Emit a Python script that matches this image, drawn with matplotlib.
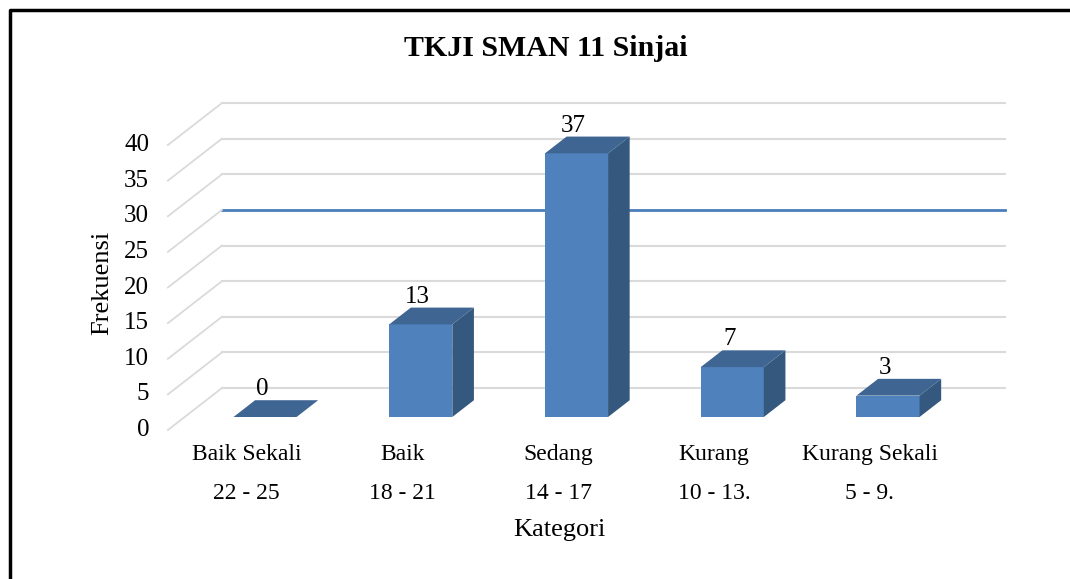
import matplotlib.pyplot as plt
from matplotlib.patches import Polygon
from matplotlib.lines import Line2D

# Data from chart
categories = ['Baik Sekali', 'Baik', 'Sedang', 'Kurang', 'Kurang Sekali']
ranges = ['22 - 25', '18 - 21', '14 - 17', '10 - 13.', '5 - 9.']
frekuensi = [0, 13, 37, 7, 3]
y_ticks = [0, 5, 10, 15, 20, 25, 30, 35, 40]

plt.rcParams['font.family'] = ['Liberation Serif', 'DejaVu Serif']

fig = plt.figure(figsize=(10.70, 5.79), dpi=100)
ax = fig.add_axes([0, 0, 1, 1])
ax.set_xlim(-1.594, 5.276)
ax.set_ylim(-20.91, 60.35)
ax.axis('off')

# oblique depth vector (data units) for the 3D look
DX, DY = 0.347, 5.89
grid_col = '#dadada'
front_col, top_col, side_col = '#4f81bd', '#3f6592', '#35587f'
x_left, x_right = -0.516, 4.51

# back wall gridlines + side wall diagonals
for v in y_ticks:
    col = '#4a7ebb' if v == 25 else grid_col
    lw = 2.0 if v == 25 else 1.5
    ax.plot([x_left + DX, x_right + DX], [v + DY, v + DY], color=col, lw=lw, zorder=1)
    ax.plot([x_left, x_left + DX], [v, v + DY], color=grid_col, lw=1.3, zorder=1)
    ax.text(x_left - 0.12, v, str(v), ha='right', va='center', fontsize=18)

# bars
w = 0.405
d0, d1 = 0.31, 0.71
for i, (cat, v) in enumerate(zip(categories, frekuensi)):
    bx0 = i - w / 2 + d0 * DX
    bx1 = bx0 + w
    b = d0 * DY
    ddx, ddy = (d1 - d0) * DX, (d1 - d0) * DY
    if v > 0:
        ax.add_patch(Polygon([(bx0, b), (bx1, b), (bx1, b + v), (bx0, b + v)],
                             closed=True, fc=front_col, ec='none', zorder=3))
        ax.add_patch(Polygon([(bx1, b), (bx1 + ddx, b + ddy), (bx1 + ddx, b + v + ddy), (bx1, b + v)],
                             closed=True, fc=side_col, ec='none', zorder=3))
    ax.add_patch(Polygon([(bx0, b + v), (bx1, b + v), (bx1 + ddx, b + v + ddy), (bx0 + ddx, b + v + ddy)],
                         closed=True, fc=top_col, ec='none', zorder=3))
    ax.text((bx0 + bx1) / 2 - 0.02, b + v + ddy, str(v), ha='center', va='bottom', fontsize=18, zorder=4)

    # category labels
    ax.text(i - 0.01, -3.5, cat, ha='center', va='center', fontsize=17)
    ax.text(i - 0.01, -8.9, ranges[i], ha='center', va='center', fontsize=17)

ax.text(2.0, -14.0, 'Kategori', ha='center', va='center', fontsize=19)
ax.text(-0.94, 20.6, 'Frekuensi', ha='center', va='center', rotation=90, fontsize=19)

fig.text(0.510, 0.917, 'TKJI SMAN 11 Sinjai', ha='center', va='center',
         fontsize=21.5, fontweight='bold')

# outer frame (left and top edges)
fx, fy = 9.5 / 1070, 1 - 9.5 / 579
fig.add_artist(Line2D([fx, fx, 1.0], [0.0, fy, fy], transform=fig.transFigure,
                      color='black', lw=2.5))

plt.savefig('out.png', dpi=100)
